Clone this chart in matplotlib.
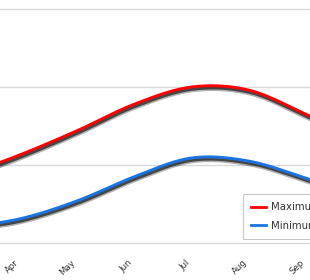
import numpy as np
import matplotlib
matplotlib.use("Agg")
import matplotlib.pyplot as plt
import matplotlib.patheffects as pe

months = ["Mar", "Apr", "May", "Jun", "Jul", "Aug", "Sep", "Oct"]
month_idx = [2, 3, 4, 5, 6, 7, 8, 9]
t_max = [8.6, 11.3, 14.4, 17.8, 20.0, 19.6, 16.5, 13.0]
t_min = [2.0, 3.1, 5.4, 8.5, 10.9, 10.5, 8.3, 5.8]
series_names = ["Maximum", "Minimum"]
colors = ["#ff0000", "#1a74e2"]


def smooth(x, y):
    # Cubic Hermite curve through the data points (rendering only)
    x = np.asarray(x, float)
    y = np.asarray(y, float)
    m = np.gradient(y, x)
    xs, ys = [], []
    for i in range(len(x) - 1):
        h = x[i + 1] - x[i]
        t = np.linspace(0, 1, 60, endpoint=False)
        h00 = 2 * t**3 - 3 * t**2 + 1
        h10 = t**3 - 2 * t**2 + t
        h01 = -2 * t**3 + 3 * t**2
        h11 = t**3 - t**2
        xs.append(x[i] + t * h)
        ys.append(h00 * y[i] + h10 * h * m[i] + h01 * y[i + 1] + h11 * h * m[i + 1])
    xs.append([x[-1]])
    ys.append([y[-1]])
    return np.concatenate(xs), np.concatenate(ys)


W, H = 310, 280
fig = plt.figure(figsize=(W / 100, H / 100), dpi=100)
bot_px, top_px = 246, 6
ax = fig.add_axes([0, (H - bot_px) / H, 1, (bot_px - top_px) / H])

px_per_unit = 7.8
month_px = 57.2

ax.set_yticks([0, 10, 20, 30])
ax.yaxis.grid(True, color="#d9d9d9", linewidth=1.0)
ax.set_axisbelow(True)
ax.tick_params(axis="y", left=False, labelleft=False)
ax.set_xticks(month_idx)
ax.set_xticklabels(months, rotation=45, ha="right", fontsize=6.2, color="#333333")
ax.tick_params(axis="x", bottom=False, pad=5)
for s in ax.spines.values():
    s.set_visible(False)

effects = [
    pe.SimpleLineShadow(offset=(0.6, -1.8), shadow_color="#000000", alpha=0.3, linewidth=4.0),
    pe.SimpleLineShadow(offset=(0.6, -1.5), shadow_color="#222222", alpha=0.75, linewidth=2.4),
    pe.Normal(),
]
for vals, name, c in zip([t_max, t_min], series_names, colors):
    xs, ys = smooth(month_idx, vals)
    ax.plot(xs, ys, color=c, linewidth=2.1, label=name, path_effects=effects,
            solid_capstyle="round")

ax.set_ylim(-(bot_px - 243) / px_per_unit, 30 + (9 - top_px) / px_per_unit)
ax.set_xlim(3 - 20 / month_px, 3 + (W - 20) / month_px)

handles = [plt.Line2D([], [], color=c, linewidth=2.0) for c in colors]
leg = fig.legend(handles, series_names, loc="upper left",
                 bbox_to_anchor=(243 / W, 1 - 194 / H), borderaxespad=0,
                 fontsize=7.3, frameon=True, fancybox=False, handlelength=1.45,
                 handletextpad=0.55, borderpad=0.8, labelspacing=0.85,
                 labelcolor="#333333")
leg.get_frame().set_edgecolor("#bbbbbb")
leg.get_frame().set_linewidth(0.8)

fig.savefig("out.png", dpi=100)
